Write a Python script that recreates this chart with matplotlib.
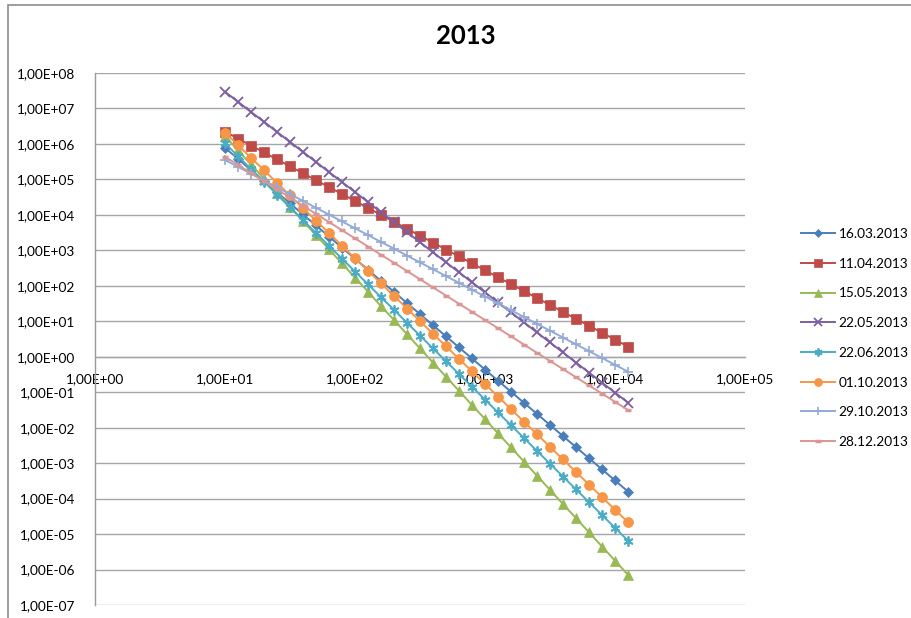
import matplotlib
matplotlib.use("Agg")
import matplotlib.pyplot as plt
from matplotlib.ticker import FixedLocator, FuncFormatter, NullLocator
from matplotlib.patches import Rectangle
import numpy as np

plt.rcParams['font.family'] = ['Lato', 'DejaVu Sans']

# Measurement points (x values)
x_vals = [10, 12.6, 15.8, 20.0, 25.1, 31.6, 39.8, 50.1, 63.1, 79.4,
          100, 126, 158, 200, 251, 316, 398, 501, 631, 794,
          1000, 1259, 1585, 1995, 2512, 3162, 3981, 5012, 6310, 7943,
          10000, 12589]

s_1603 = [7.76e5, 3.78e5, 1.84e5, 8.96e4, 4.36e4, 2.12e4, 1.03e4, 5.03e3, 2.45e3, 1.19e3,
          5.81e2, 2.83e2, 1.38e2, 67.0, 32.6, 15.9, 7.73, 3.76, 1.83, 0.893,
          0.435, 0.211, 0.103, 0.0501, 0.0244, 0.0119, 0.00578, 0.00282, 0.00137, 6.68e-4,
          3.25e-4, 1.58e-4]
s_1104 = [2.22e6, 1.42e6, 9.02e5, 5.75e5, 3.66e5, 2.34e5, 1.49e5, 9.51e4, 6.05e4, 3.86e4,
          2.46e4, 1.57e4, 1.00e4, 6.38e3, 4.06e3, 2.59e3, 1.65e3, 1.05e3, 6.71e2, 4.29e2,
          2.73e2, 1.74e2, 1.11e2, 70.8, 45.1, 28.8, 18.3, 11.7, 7.45, 4.75,
          3.03, 1.93]
s_1505 = [1.66e6, 6.62e5, 2.64e5, 1.05e5, 4.21e4, 1.68e4, 6.70e3, 2.67e3, 1.07e3, 4.26e2,
          1.70e2, 67.8, 27.0, 10.8, 4.31, 1.72, 0.685, 0.274, 0.109, 0.0436,
          0.0174, 0.00693, 0.00277, 0.00110, 4.41e-4, 1.76e-4, 7.01e-5, 2.80e-5, 1.12e-5, 4.46e-6,
          1.78e-6, 7.10e-7]
s_2205 = [2.95e7, 1.54e7, 8.03e6, 4.19e6, 2.18e6, 1.14e6, 5.94e5, 3.10e5, 1.61e5, 8.42e4,
          4.39e4, 2.29e4, 1.19e4, 6.22e3, 3.25e3, 1.69e3, 8.83e2, 4.60e2, 2.40e2, 1.25e2,
          65.3, 34.0, 17.8, 9.27, 4.83, 2.52, 1.32, 0.685, 0.357, 0.186,
          0.0973, 0.0507]
s_2206 = [1.04e6, 4.54e5, 1.97e5, 8.59e4, 3.73e4, 1.63e4, 7.06e3, 3.08e3, 1.34e3, 5.82e2,
          2.53e2, 1.10e2, 48.0, 20.9, 9.08, 3.95, 1.72, 0.748, 0.325, 0.142,
          0.0617, 0.0268, 0.0117, 0.00507, 0.00221, 9.60e-4, 4.18e-4, 1.82e-4, 7.91e-5, 3.44e-5,
          1.50e-5, 6.52e-6]
s_0110 = [2.09e6, 9.24e5, 4.08e5, 1.81e5, 7.99e4, 3.53e4, 1.56e4, 6.90e3, 3.05e3, 1.35e3,
          5.97e2, 2.64e2, 1.17e2, 51.6, 22.8, 10.1, 4.46, 1.97, 0.871, 0.385,
          0.171, 0.0753, 0.0333, 0.0147, 0.00652, 0.00288, 0.00127, 5.64e-4, 2.49e-4, 1.10e-4,
          4.87e-5, 2.15e-5]
s_2910 = [3.52e5, 2.26e5, 1.45e5, 9.33e4, 5.98e4, 3.85e4, 2.47e4, 1.58e4, 1.02e4, 6.53e3,
          4.19e3, 2.69e3, 1.73e3, 1.11e3, 7.11e2, 4.57e2, 2.93e2, 1.88e2, 1.21e2, 77.6,
          49.8, 32.0, 20.5, 13.2, 8.45, 5.43, 3.48, 2.24, 1.44, 0.922,
          0.592, 0.380]
s_2812 = [4.37e5, 2.57e5, 1.51e5, 8.89e4, 5.24e4, 3.08e4, 1.81e4, 1.07e4, 6.27e3, 3.69e3,
          2.17e3, 1.28e3, 7.52e2, 4.43e2, 2.61e2, 1.53e2, 90.2, 53.1, 31.2, 18.4,
          10.8, 6.36, 3.74, 2.20, 1.29, 0.762, 0.449, 0.264, 0.155, 0.0914,
          0.0537, 0.0316]

labels = ["16.03.2013", "11.04.2013", "15.05.2013", "22.05.2013",
          "22.06.2013", "01.10.2013", "29.10.2013", "28.12.2013"]
series = [s_1603, s_1104, s_1505, s_2205, s_2206, s_0110, s_2910, s_2812]

styles = [
    dict(color="#4A7EBB", marker="D", ms=5.2, mew=0.5),
    dict(color="#BE4B48", marker="s", ms=6.8, mew=0.5),
    dict(color="#98B954", marker="^", ms=7.2, mew=0.5),
    dict(color="#7D60A0", marker="x", ms=6.8, mew=1.3),
    dict(color="#4BACC6", marker=(6, 2, 0), ms=7.2, mew=1.3),
    dict(color="#F79646", marker="o", ms=7.2, mew=0.5),
    dict(color="#94AAD6", marker="+", ms=7.0, mew=1.2),
    dict(color="#DA9694", marker="_", ms=5.0, mew=2.5),
]

fig = plt.figure(figsize=(9.12, 6.18), dpi=100)
ax = fig.add_axes([95 / 912, 1 - 605 / 618, 650 / 912, 532 / 618])

for ys, lab, st in zip(series, labels, styles):
    ax.plot(x_vals, ys, color=st["color"], lw=1.4, marker=st["marker"],
            ms=st["ms"], mew=st["mew"], mfc=st["color"], mec=st["color"],
            label=lab, zorder=3)

ax.set_xscale("log")
ax.set_yscale("log")
ax.set_xlim(1, 1e5)
ax.set_ylim(1e-7, 1e8)

xt = [10.0 ** e for e in range(0, 6)]
yt = [10.0 ** e for e in range(-7, 9)]
ax.xaxis.set_major_locator(FixedLocator(xt))
ax.yaxis.set_major_locator(FixedLocator(yt))
ax.xaxis.set_minor_locator(NullLocator())
ax.yaxis.set_minor_locator(NullLocator())


def sci_comma(v, pos):
    e = int(round(np.log10(v)))
    return "1,00E%+03d" % e


ax.xaxis.set_major_formatter(FuncFormatter(sci_comma))
ax.yaxis.set_major_formatter(FuncFormatter(sci_comma))

ax.tick_params(axis="both", length=0, labelsize=9.8, colors="#000000")
ax.tick_params(axis="y", pad=14)
ax.tick_params(axis="x", pad=12)

ax.grid(True, axis="y", color="#A6A6A6", lw=1.0, zorder=0)
ax.set_axisbelow(True)

for side in ("top", "right"):
    ax.spines[side].set_visible(False)
ax.spines["left"].set_color("#9A9A9A")
ax.spines["left"].set_linewidth(1.0)
ax.spines["bottom"].set_position(("data", 1))
ax.spines["bottom"].set_color("#A6A6A6")
ax.spines["bottom"].set_linewidth(1.0)

fig.text(466 / 912, 1 - 36 / 618, "2013", ha="center", va="center",
         fontsize=18.5, fontweight="bold")

leg = fig.legend(loc="center left", bbox_to_anchor=(789 / 912, 1 - 338 / 618),
                 frameon=False, fontsize=9.8, handlelength=2.5,
                 handletextpad=0.25, labelspacing=1.3, markerscale=0.8)

# chart area frame
fig.patches.append(Rectangle((8 / 912, -0.05), 1.2, 1 - 5 / 618 + 0.05,
                             transform=fig.transFigure, fill=False,
                             edgecolor="#8C8C8C", lw=1.2))

fig.savefig("out.png", dpi=100)
